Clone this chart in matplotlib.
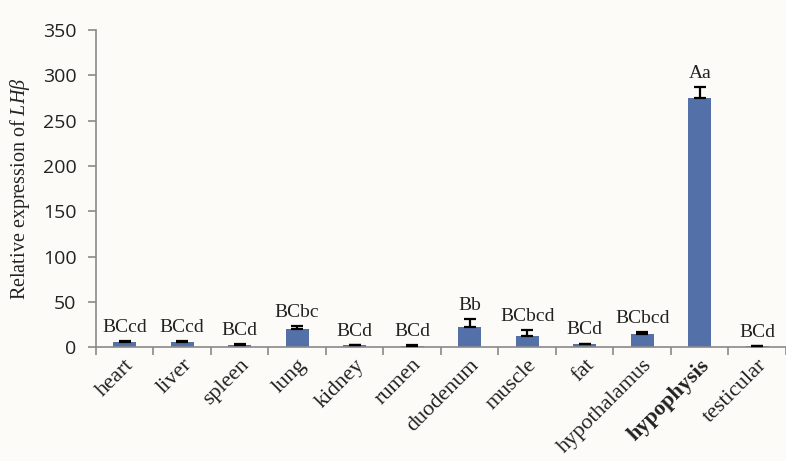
import matplotlib.pyplot as plt
import numpy as np

plt.rcParams['mathtext.fontset'] = 'custom'
plt.rcParams['mathtext.rm'] = 'Liberation Serif'
plt.rcParams['mathtext.it'] = 'Liberation Serif:italic'

tissues = ["heart", "liver", "spleen", "lung", "kidney", "rumen", "duodenum",
           "muscle", "fat", "hypothalamus", "hypophysis", "testicular"]
expression = [5.8, 5.8, 2.5, 19.5, 2.0, 1.5, 22.4, 11.8, 3.0, 14.0, 274.5, 1.2]
sem = [1.0, 1.0, 0.8, 4.0, 0.6, 0.5, 8.5, 7.0, 1.0, 3.0, 13.0, 0.5]
groups = ["BCcd", "BCcd", "BCd", "BCbc", "BCd", "BCd", "Bb", "BCbcd", "BCd",
          "BCbcd", "Aa", "BCd"]

bg = '#fcfbf8'
fig = plt.figure(figsize=(7.86, 4.61), dpi=100, facecolor=bg)
ax = fig.add_axes([0.122, 0.247, 0.878, 0.688], facecolor=bg)

x = np.arange(len(tissues))
ax.bar(x, expression, width=0.4, color='#5470a8', zorder=2)
ax.errorbar(x, expression, yerr=[np.zeros(len(sem)), sem], fmt='none',
            ecolor='black', elinewidth=1.6, capsize=4, capthick=1.6, zorder=3)

for xi, v, e, g in zip(x, expression, sem, groups):
    ax.annotate(g, (xi, v + e), xytext=(0, 6.5), textcoords='offset points',
                ha='center', va='baseline', fontsize=14,
                family='Liberation Serif', color='#222222')

ax.set_ylim(0, 350)
ax.set_yticks(range(0, 351, 50))
ax.set_xlim(-0.5, 11.43)

ax.set_xticks(x)
ax.set_xticklabels(tissues, rotation=45, ha='right', rotation_mode='anchor',
                   family='Liberation Serif', fontsize=16, color='#222222')
ax.get_xticklabels()[10].set_fontweight('bold')
ax.tick_params(axis='x', which='major', length=0, pad=6)
ax.set_xticks(np.arange(-0.5, 12, 1), minor=True)
ax.tick_params(axis='x', which='minor', length=6, color='#8a8a8a', width=1.2)

ax.tick_params(axis='y', length=6, color='#8a8a8a', width=1.2, labelsize=14,
               labelcolor='#222222', pad=8)
for lbl in ax.get_yticklabels():
    lbl.set_family('Open Sans')

for s in ['top', 'right']:
    ax.spines[s].set_visible(False)
for s in ['left', 'bottom']:
    ax.spines[s].set_color('#8a8a8a')
    ax.spines[s].set_linewidth(1.2)

ax.set_ylabel(r"Relative expression of $\mathit{LH\beta}$", fontsize=14.5,
              family='Liberation Serif', color='#222222', labelpad=8)

fig.savefig("out.png", dpi=100, facecolor=bg)
